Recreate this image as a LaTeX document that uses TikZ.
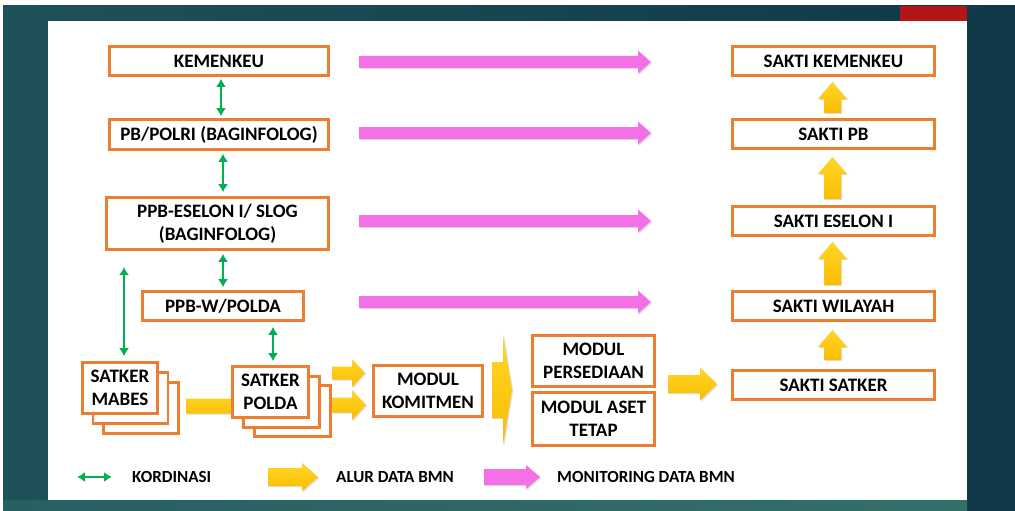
\documentclass[tikz,border=0pt]{standalone}
\usepackage{fontspec}
\setmainfont{Carlito}
\usepackage{xcolor}
\usepackage{tikz}
\usetikzlibrary{arrows.meta,calc,positioning,shadows}
\definecolor{boxorange}{RGB}{237,125,49}
\definecolor{kordgreen}{RGB}{0,176,80}
\definecolor{monpink}{RGB}{243,112,230}
\definecolor{alurtop}{RGB}{255,214,40}
\definecolor{alurbot}{RGB}{250,188,0}
\definecolor{bgleft}{RGB}{30,82,90}
\definecolor{bgright}{RGB}{16,56,72}
\definecolor{bgbotleft}{RGB}{38,96,98}
\definecolor{bgbotright}{RGB}{52,112,106}
\definecolor{barred}{RGB}{178,22,22}
\newcommand{\blockarrow}[6]{%
  \path[#1] #2 ++(0,#4) -- ++({#3-#6},0) -- ++(0,{#5-#4}) -- ++(#6,{-#5}) -- ++({-#6},{-#5}) -- ++(0,{#5-#4}) -- ++({#6-#3},0) -- cycle;}

\begin{document}
\begin{tikzpicture}[
    x=1pt, y=-1pt,
    box/.style={draw=boxorange, line width=2.6pt, fill=white, align=center, inner sep=0pt,
        font=\fontsize{19}{23}\selectfont\bfseries},
    sakti/.style={box, minimum width=202pt, minimum height=29pt},
    kord/.style={draw=kordgreen, line width=2.4pt, {Latex[length=8pt,width=10pt]}-{Latex[length=8pt,width=10pt]}},
    alur/.style={top color=alurtop, bottom color=alurbot, drop shadow={shadow xshift=1.2pt, shadow yshift=-1.2pt, opacity=0.25}},
    monitor/.style={fill=monpink, drop shadow={shadow xshift=1.2pt, shadow yshift=-1.2pt, opacity=0.25}},
    legend/.style={anchor=west, inner sep=0pt, font=\fontsize{17}{20}\selectfont\bfseries}]
\useasboundingbox (0,0) rectangle (1015,511);
\fill[white] (0,0) rectangle (1015,511);
\shade[left color=bgleft, right color=bgright] (3,6) rectangle (1015,511);
\shade[left color=bgbotleft, right color=bgbotright] (3,500) rectangle (967,511);
\fill[white] (48,21) rectangle (967,500);
\fill[barred] (900,6) rectangle (967,21);

\node[box, minimum width=219pt, minimum height=29pt] (kemenkeu) at (219,61) {KEMENKEU};
\node[box, minimum width=219pt, minimum height=30pt] (pbpolri) at (219,134.5) {PB/POLRI (BAGINFOLOG)};
\node[box, minimum width=222pt, minimum height=52pt] (eselon) at (217.5,223.5) {PPB-ESELON I/ SLOG\\(BAGINFOLOG)};
\node[box, minimum width=161pt, minimum height=29pt] (ppbw) at (223,306) {PPB-W/POLDA};

\node[box, minimum width=75pt, minimum height=51pt] (mabes3) at (141,408) {};
\node[box, minimum width=75pt, minimum height=51pt] (mabes2) at (130.5,398) {};
\node[box, minimum width=75pt, minimum height=51pt] (mabes) at (120,388) {SATKER\\MABES};

\blockarrow{alur}{(186,406)}{70}{7.5}{14}{15}

\node[box, minimum width=76pt, minimum height=51pt] (polda3) at (292.5,411) {};
\node[box, minimum width=76pt, minimum height=51pt] (polda2) at (281.5,402) {};
\node[box, minimum width=76pt, minimum height=51pt] (polda) at (270.5,392) {SATKER\\POLDA};

\node[box, minimum width=109pt, minimum height=51pt] (komitmen) at (428,391) {MODUL\\KOMITMEN};
\node[box, minimum width=122pt, minimum height=51pt] (persediaan) at (593.5,361) {MODUL\\PERSEDIAAN};
\node[box, minimum width=122pt, minimum height=53pt] (aset) at (593.5,419) {MODUL ASET\\TETAP};

\node[sakti] (saktikemenkeu) at (833.5,61) {SAKTI KEMENKEU};
\node[sakti] (saktipb) at (833.5,134) {SAKTI PB};
\node[sakti] (saktieselon) at (833.5,221) {SAKTI ESELON I};
\node[sakti] (saktiwilayah) at (833.5,306) {SAKTI WILAYAH};
\node[sakti] (saktisatker) at (833.5,385) {SAKTI SATKER};

\blockarrow{alur}{(332,373)}{33}{6.5}{14}{13}
\blockarrow{alur}{(332,405)}{34}{7.5}{15}{14}
\path[alur] (492,362) -- (503,362) -- (503,335) -- (512,390) -- (503,445) -- (503,418) -- (492,418) -- cycle;
\blockarrow{alur}{(668,384)}{49}{9}{16.5}{17}

\blockarrow{alur, rotate around={90:(832.5,113)}}{(832.5,113)}{31}{8.5}{14.5}{17}
\blockarrow{alur, rotate around={90:(832.5,199)}}{(832.5,199)}{42}{8.5}{14.5}{17}
\blockarrow{alur, rotate around={90:(832.5,285)}}{(832.5,285)}{43}{8.5}{14.5}{17}
\blockarrow{alur, rotate around={90:(832.5,360)}}{(832.5,360)}{30}{8.5}{14.5}{17}

\blockarrow{monitor}{(359,62)}{292}{6}{11.5}{13}
\blockarrow{monitor}{(359,133)}{292}{6}{11.5}{13}
\blockarrow{monitor}{(359,221)}{292}{6}{11.5}{13}
\blockarrow{monitor}{(359,302)}{292}{6}{11.5}{13}

\path[kord, shorten <=2pt, shorten >=2pt] ([xshift=2pt]kemenkeu.south) -- ([xshift=2pt]pbpolri.north);
\path[kord, shorten <=3pt, shorten >=4pt] ([xshift=4pt]pbpolri.south) -- ([xshift=4pt]pbpolri.south |- eselon.north);
\path[kord, shorten <=3pt, shorten >=3pt] (eselon.south -| ppbw.north) -- (ppbw.north);
\coordinate (kordtop) at (124,267);
\path[kord, shorten >=5pt] (kordtop) -- (kordtop |- mabes.north);
\path[kord, shorten <=5pt, shorten >=4pt] ([xshift=2.5pt]polda.north |- ppbw.south) -- ([xshift=2.5pt]polda.north);

\coordinate (legkordL) at (77,477);
\coordinate (legkordR) at (112,477);
\path[kord] (legkordL) -- (legkordR);
\node[legend] (legkord) at (132,477) {KORDINASI};
\blockarrow{alur}{(268,477)}{50}{9}{14}{16}
\node[legend] (legalur) at (336,477) {ALUR DATA BMN};
\blockarrow{monitor}{(484,477)}{56}{8}{12}{14}
\node[legend] (legmonitor) at (557,477) {MONITORING DATA BMN};
\end{tikzpicture}
\end{document}
